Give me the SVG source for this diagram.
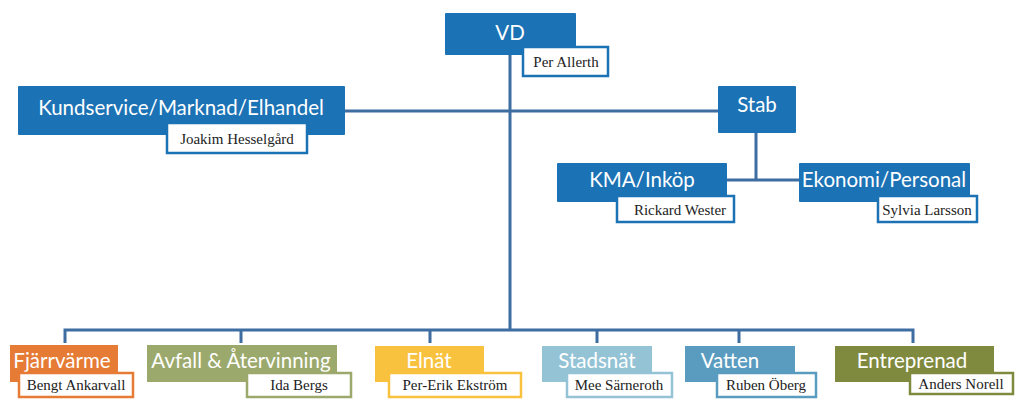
<svg xmlns="http://www.w3.org/2000/svg" width="1023" height="406" viewBox="0 0 1023 406">
<style>
.t{font-family:Lato,"Open Sans",sans-serif;font-size:20.5px;fill:#fff;text-anchor:middle}
.n{font-family:"Liberation Serif",serif;font-size:15px;fill:#222;text-anchor:middle}
.nb{fill:#fff;stroke-width:2.5}
.c{fill:none;stroke:#3d6da1;stroke-width:3}
.blue{fill:#1b72b5}.sb{stroke:#1b72b5}
</style>
<rect width="1023" height="406" fill="#fff"/>
<g id="connectors">
<path class="c" d="M510 55V330M345 111H718M756 133V180M727 180H800"/>
<path class="c" d="M65 343V330H913V343M241 330V343M430 330V343M597 330V343M739 330V343"/>
</g>
<g id="vd"><rect class="blue" x="445" y="13" width="131" height="42" rx="1"/><text class="t" x="510" y="40">VD</text>
<rect class="nb sb" x="523" y="47" width="85" height="29"/><text class="n" x="566" y="67">Per Allerth</text></g>
<g id="kundservice"><rect class="blue" x="18" y="86" width="327" height="49" rx="1"/><text class="t" x="181" y="115">Kundservice/Marknad/Elhandel</text>
<rect class="nb sb" x="167" y="123" width="140" height="30"/><text class="n" x="237" y="144">Joakim Hesselgård</text></g>
<g id="stab"><rect class="blue" x="718" y="86" width="78" height="47" rx="1"/><text class="t" x="757" y="112">Stab</text></g>
<g id="kma"><rect class="blue" x="557" y="163" width="170" height="39" rx="1"/><text class="t" x="642" y="187">KMA/Inköp</text>
<rect class="nb sb" x="617" y="196" width="117" height="26"/><text class="n" x="680" y="215">Rickard Wester</text></g>
<g id="ekonomi"><rect class="blue" x="799" y="163" width="171" height="39" rx="1"/><text class="t" x="884" y="187">Ekonomi/Personal</text>
<rect class="nb sb" x="878" y="196" width="99" height="26"/><text class="n" x="927" y="215">Sylvia Larsson</text></g>
<g id="fjarrvarme"><rect fill="#e57b35" x="10" y="345" width="108" height="37"/><text class="t" x="62" y="368">Fjärrvärme</text>
<rect class="nb" stroke="#e57b35" x="19" y="373" width="114" height="24"/><text class="n" x="76" y="390">Bengt Ankarvall</text></g>
<g id="avfall"><rect fill="#9ca96c" x="147" y="345" width="190" height="37"/><text class="t" x="241" y="368">Avfall &amp; Återvinning</text>
<rect class="nb" stroke="#9ca96c" x="247" y="373" width="104" height="24"/><text class="n" x="299" y="390">Ida Bergs</text></g>
<g id="elnat"><rect fill="#f9c23e" x="375" y="346" width="109" height="36"/><text class="t" x="429" y="368">Elnät</text>
<rect class="nb" stroke="#f9c23e" x="389" y="373" width="132" height="24"/><text class="n" x="455" y="390">Per-Erik Ekström</text></g>
<g id="stadsnat"><rect fill="#94c3d5" x="542" y="346" width="110" height="36"/><text class="t" x="597" y="368">Stadsnät</text>
<rect class="nb" stroke="#94c3d5" x="567" y="373" width="105" height="24"/><text class="n" x="619" y="390">Mee Särneroth</text></g>
<g id="vatten"><rect fill="#5a9cc0" x="685" y="346" width="110" height="36"/><text class="t" x="730" y="368">Vatten</text>
<rect class="nb" stroke="#5a9cc0" x="717" y="373" width="99" height="24"/><text class="n" x="766" y="390">Ruben Öberg</text></g>
<g id="entreprenad"><rect fill="#7f8a3e" x="835" y="346" width="159" height="36"/><text class="t" x="912" y="368">Entreprenad</text>
<rect class="nb" stroke="#7f8a3e" x="910" y="373" width="103" height="21"/><text class="n" x="961" y="389">Anders Norell</text></g>
</svg>
